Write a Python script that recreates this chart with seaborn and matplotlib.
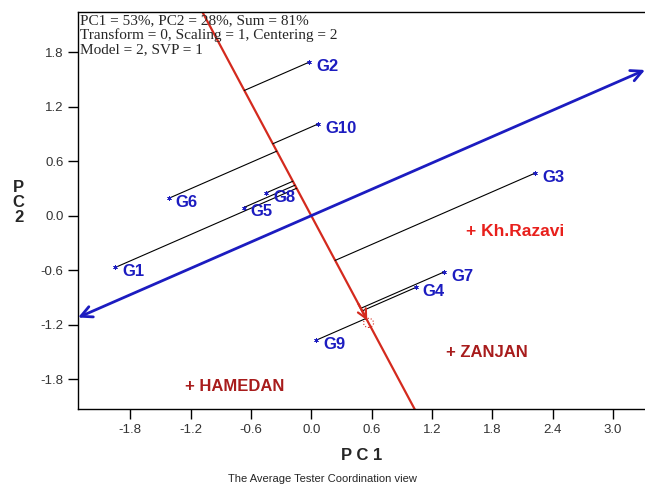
import numpy as np
import seaborn as sns
import matplotlib
matplotlib.use("Agg")
import matplotlib.pyplot as plt

# Genotype scores (PC1, PC2)
genotypes = ["G1", "G2", "G3", "G4", "G5", "G6", "G7", "G8", "G9", "G10"]
g_pc1 = [-1.95, -0.02, 2.23, 1.04, -0.67, -1.42, 1.32, -0.45, 0.05, 0.07]
g_pc2 = [-0.57, 1.69, 0.47, -0.79, 0.09, 0.19, -0.62, 0.25, -1.37, 1.01]

# Environment (tester) scores
environments = ["Kh.Razavi", "ZANJAN", "HAMEDAN"]
e_pc1 = [1.59, 1.40, -1.20]
e_pc2 = [-0.17, -1.51, -1.88]
env_colors = ["#e8201c", "#a81c1c", "#a81c1c"]

# Average environment coordinate
avg_env = [0.57, -1.18]

xticks = [-1.8, -1.2, -0.6, 0.0, 0.6, 1.2, 1.8, 2.4, 3.0]
yticks = [-1.8, -1.2, -0.6, 0.0, 0.6, 1.2, 1.8]

sns.set_style("white")
plt.rcParams['font.family'] = ['Liberation Sans', 'DejaVu Sans']

fig = plt.figure(figsize=(6.45, 4.86), dpi=100)
ax = fig.add_axes([0.121, 0.158, 0.879, 0.817])
xlim = (-2.32, 3.32)
ylim = (-2.13, 2.24)
ax.set_xlim(xlim)
ax.set_ylim(ylim)

blue = "#1c1cc0"
red = "#d42a1e"
a = np.array(avg_env)

# ATC ordinate (red) through origin and average environment
t = np.array([-3.0, 3.0])
ax.plot(t * a[0], t * a[1], color=red, lw=1.6, zorder=2)
ax.annotate("", xy=(a[0], a[1]), xytext=(a[0] * 0.8, a[1] * 0.8),
            arrowprops=dict(arrowstyle="->", color=red, lw=1.6, mutation_scale=16), zorder=3)
ax.add_patch(plt.Circle((a[0], a[1]), 0.05, fill=False, ls=":", color=red, lw=0.8))

# ATC abscissa (blue), perpendicular to the red line
slope = -a[0] / a[1]
ax.annotate("", xy=(xlim[1], xlim[1] * slope), xytext=(xlim[0], xlim[0] * slope),
            arrowprops=dict(arrowstyle="<->", color=blue, lw=2, mutation_scale=20,
                            shrinkA=0, shrinkB=0), zorder=3)

# Projections of genotypes onto the red line
for x, y in zip(g_pc1, g_pc2):
    k = (x * a[0] + y * a[1]) / (a @ a)
    ax.plot([x, k * a[0]], [y, k * a[1]], color="black", lw=0.8, zorder=2)

sns.scatterplot(x=g_pc1, y=g_pc2, marker=(6, 2, 0), s=9, color=blue, linewidth=0.5,
                ax=ax, zorder=4)
for name, x, y in zip(genotypes, g_pc1, g_pc2):
    ax.annotate(name, (x, y), xytext=(5, -3), textcoords="offset points",
                color=blue, fontsize=12, fontweight="bold", va="center", ha="left")

for name, x, y, c in zip(environments, e_pc1, e_pc2, env_colors):
    ax.annotate("+ " + name, (x, y), xytext=(-4, 0), textcoords="offset points",
                color=c, fontsize=12.5 if name == "Kh.Razavi" else 12,
                fontweight="bold", va="center", ha="left")

ax.text(0.004, 0.995, "PC1 = 53%, PC2 = 28%, Sum = 81%\nTransform = 0, Scaling = 1, Centering = 2\nModel = 2, SVP = 1",
        transform=ax.transAxes, ha="left", va="top", fontsize=11, linespacing=1.1,
        family="Liberation Serif", zorder=5)

ax.set_xticks(xticks)
ax.set_yticks(yticks)
ax.set_xticklabels([f"{v:.1f}" for v in xticks])
ax.set_yticklabels([f"{v:.1f}" for v in yticks])
ax.tick_params(direction="out", length=7, width=1, colors="black", labelcolor="#333333",
               labelsize=9.5, bottom=True, left=True)
ax.spines["right"].set_visible(False)
for s in ["left", "bottom", "top"]:
    ax.spines[s].set_color("black")
    ax.spines[s].set_linewidth(1)

ax.set_xlabel("P C 1", fontsize=12, fontweight="bold", labelpad=9)
ax.set_ylabel("P\nC\n2", fontsize=12, fontweight="bold", rotation=0, labelpad=0,
              va="center", linespacing=1.0)
ax.yaxis.set_label_coords(-0.105, 0.52)
fig.text(0.5, 0.008, "The Average Tester Coordination view", ha="center", fontsize=8)

fig.savefig("out.png", dpi=100)
